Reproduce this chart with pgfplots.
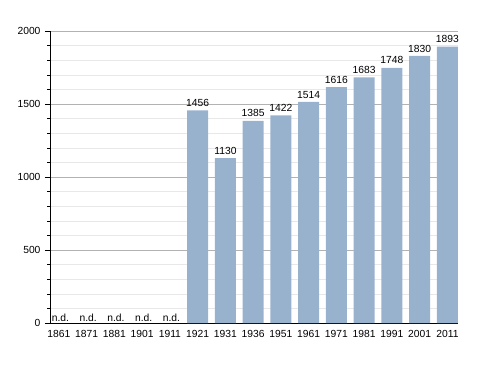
\documentclass[border=0pt]{standalone}
\usepackage{pgfplots}
\pgfplotsset{compat=1.18}
\usepackage{fontspec}
\setmainfont{Liberation Sans}
\definecolor{barcol}{HTML}{98B2CE}
\begin{document}
\begin{tikzpicture}
\useasboundingbox (-50pt,-50pt) rectangle (438pt,323pt);
\begin{axis}[
  scale only axis,
  width=408pt, height=292pt,
  xmin=-0.32, xmax=14.38,
  ymin=0, ymax=2000,
  axis lines*=left,
  axis line style={black, line width=0.8pt},
  xtick={0,...,14},
  xticklabels={1861,1871,1881,1901,1911,1921,1931,1936,1951,1961,1971,1981,1991,2001,2011},
  xtick style={draw=none},
  ytick={0,500,1000,1500,2000},
  minor y tick num=4,
  tick align=outside,
  major tick length=5pt,
  minor tick length=2.5pt,
  ytick style={black, line width=0.6pt},
  ymajorgrids, yminorgrids,
  major grid style={gray!60, line width=0.6pt},
  minor grid style={gray!18, line width=0.6pt},
  ticklabel style={font=\fontsize{10.3}{12}\selectfont},
  /pgf/number format/assume math mode=true,
  /pgf/number format/1000 sep={},
  yticklabel style={xshift=-1pt},
  xticklabel style={yshift=1pt},
  clip=false,
]
\addplot[ybar, bar shift=0pt, bar width=21pt, fill=barcol, draw=none,
  nodes near coords,
  nodes near coords style={font=\fontsize{10.3}{12}\selectfont, inner sep=1.5pt, yshift=2pt, /pgf/number format/1000 sep={}, /pgf/number format/assume math mode=true}]
coordinates {(5,1456) (6,1130) (7,1385) (8,1422) (9,1514) (10,1616) (11,1683) (12,1748) (13,1830) (14,1893)};
\addplot[draw=none, mark=none,
  nodes near coords, point meta=explicit symbolic,
  nodes near coords style={font=\fontsize{10.3}{12}\selectfont, inner sep=1.5pt, xshift=1.5pt}]
coordinates {(0,0)[n.d.] (1,0)[n.d.] (2,0)[n.d.] (3,0)[n.d.] (4,0)[n.d.]};
\end{axis}
\end{tikzpicture}
\end{document}
